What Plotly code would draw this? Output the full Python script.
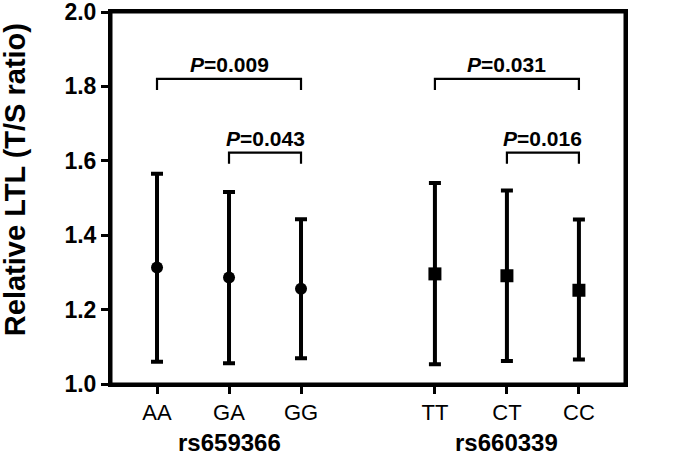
import plotly.graph_objects as go

# ---- data ----
genotypes_1 = ["AA", "GA", "GG"]
genotypes_2 = ["TT", "CT", "CC"]
snp_names = ["rs659366", "rs660339"]
mean_1 = [1.313, 1.286, 1.256]
upper_1 = [1.565, 1.516, 1.443]
lower_1 = [1.060, 1.056, 1.069]
mean_2 = [1.296, 1.291, 1.252]
upper_2 = [1.540, 1.520, 1.442]
lower_2 = [1.053, 1.062, 1.066]
p_labels = ["0.009", "0.043", "0.031", "0.016"]
p_pairs = [("AA", "GG"), ("GA", "GG"), ("TT", "CC"), ("CT", "CC")]
p_heights = [1.82, 1.622, 1.82, 1.622]
y_ticks = [1.0, 1.2, 1.4, 1.6, 1.8, 2.0]

# ---- layout positions ----
xpos = {"AA": 1, "GA": 2, "GG": 3, "TT": 4.86, "CT": 5.86, "CC": 6.86}
FONT = "Arial, Liberation Sans, Helvetica, sans-serif"

fig = go.Figure()

def add_group(cats, means, up, lo, symbol):
    xs = [xpos[c] for c in cats]
    fig.add_trace(go.Scatter(
        x=xs, y=means, mode="markers",
        marker=dict(symbol=symbol, size=13 if symbol == "square" else 12, color="black"),
        error_y=dict(type="data", symmetric=False,
                     array=[u - m for u, m in zip(up, means)],
                     arrayminus=[m - l for m, l in zip(means, lo)],
                     color="black", thickness=4, width=6),
        showlegend=False, hoverinfo="skip"))

add_group(genotypes_1, mean_1, upper_1, lower_1, "circle")
add_group(genotypes_2, mean_2, upper_2, lower_2, "square")

# brackets + p labels
leg = 0.03
for (a, b), h, p in zip(p_pairs, p_heights, p_labels):
    xa, xb = xpos[a], xpos[b]
    fig.add_trace(go.Scatter(
        x=[xa, xa, xb, xb], y=[h - leg, h, h, h - leg], mode="lines",
        line=dict(color="black", width=2.2), showlegend=False, hoverinfo="skip"))
    fig.add_annotation(x=(xa + xb) / 2, y=h, xref="x", yref="y",
                       text="<b><i>P</i>=" + p + "</b>", showarrow=False,
                       yanchor="bottom", yshift=1,
                       font=dict(family=FONT, size=21, color="black"))

# group labels
for cats, name in zip([genotypes_1, genotypes_2], snp_names):
    xc = xpos[cats[1]]
    fig.add_annotation(x=xc, y=0, xref="x", yref="paper", text="<b>" + name + "</b>",
                       showarrow=False, yanchor="middle", yshift=-58,
                       font=dict(family=FONT, size=24, color="black"))

# y-axis title
fig.add_annotation(x=0, y=0.548, xref="paper", yref="paper",
                   text="<b>Relative LTL (T/S ratio)</b>", textangle=-90,
                   showarrow=False, xanchor="center", yanchor="middle", xshift=-96,
                   font=dict(family=FONT, size=29, color="black"))

# frame
fig.add_shape(type="rect", xref="paper", yref="paper", x0=0, y0=0, x1=1, y1=1,
              line=dict(color="black", width=3), layer="above")

all_cats = genotypes_1 + genotypes_2
fig.update_xaxes(
    range=[0.361, 7.5], tickvals=[xpos[c] for c in all_cats], ticktext=all_cats,
    showline=True, linecolor="black", linewidth=3, mirror=True,
    ticks="outside", ticklen=7, tickwidth=3, tickcolor="black",
    showgrid=False, zeroline=False, automargin=False, ticklabeloverflow="allow",
    tickfont=dict(family=FONT, size=22, color="black"))
fig.update_yaxes(
    range=[1.0, 2.0], tickvals=y_ticks, ticktext=[f"{v:.1f}" for v in y_ticks],
    showline=True, linecolor="black", linewidth=3, mirror=True,
    ticks="outside", ticklen=7, tickwidth=3, tickcolor="black",
    showgrid=False, zeroline=False, automargin=False, ticklabeloverflow="allow",
    tickfont=dict(family=FONT, size=23, color="black", weight="bold"))

fig.update_layout(
    width=700, height=456, margin=dict(l=111, r=75, t=12, b=72),
    plot_bgcolor="white", paper_bgcolor="white")

fig.write_html("out.html", config={"displayModeBar": False},
               post_script="document.body.style.margin='0';document.body.style.overflow='hidden';")
